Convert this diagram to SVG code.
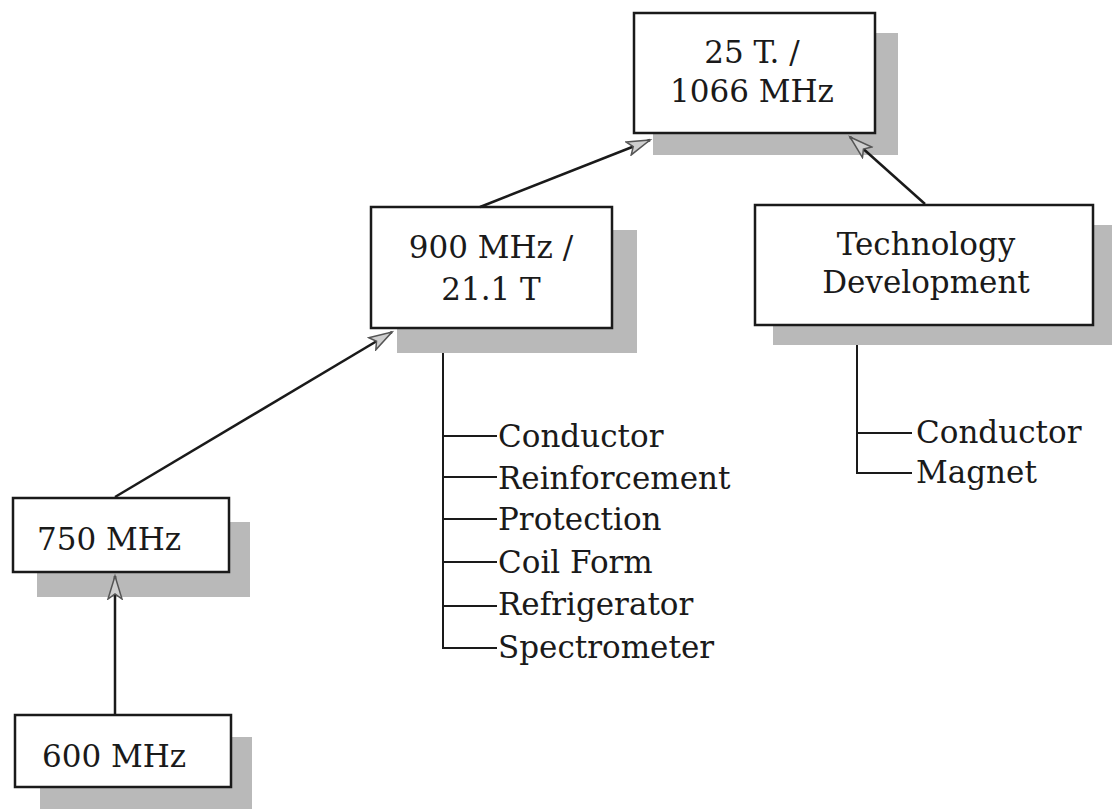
<svg xmlns="http://www.w3.org/2000/svg" width="1112" height="809" viewBox="0 0 1112 809">
<style>
.box{fill:#fff;stroke:#1a1a1a;stroke-width:2.5}
.sh{fill:#b9b9b9}
.t{font-family:"DejaVu Serif","Liberation Serif",serif;font-size:31px;fill:#1a1a1a}
.c{text-anchor:middle}
.ln{stroke:#1a1a1a;stroke-width:2.5;fill:none}
.br{stroke:#1a1a1a;stroke-width:2;fill:none}
</style>
<defs>
<marker id="ah" markerUnits="userSpaceOnUse" markerWidth="28" markerHeight="18" refX="24" refY="8" orient="auto">
<path d="M1,1 L24,8 L1,15 L6,8 z" fill="#cfcfcf" stroke="#555" stroke-width="1.5"/>
</marker>
</defs>
<rect width="1112" height="809" fill="#fff"/>
<g id="n25T">
<rect class="sh" x="653" y="33" width="245" height="122"/>
<rect class="box" x="634" y="13" width="241" height="120"/>
<text class="t c" x="752" y="63">25 T. /</text>
<text class="t c" x="752" y="102">1066 MHz</text>
</g>
<g id="n900">
<rect class="sh" x="397" y="230" width="240" height="123"/>
<rect class="box" x="371" y="207" width="241" height="121"/>
<text class="t c" x="491" y="258">900 MHz /</text>
<text class="t c" x="491" y="300">21.1 T</text>
</g>
<g id="ntech">
<rect class="sh" x="773" y="225" width="345" height="120"/>
<rect class="box" x="755" y="205" width="338" height="120"/>
<text class="t c" x="926" y="255">Technology</text>
<text class="t c" x="926" y="293">Development</text>
</g>
<g id="n750">
<rect class="sh" x="37" y="522" width="213" height="75"/>
<rect class="box" x="13" y="498" width="216" height="74"/>
<text class="t" x="37" y="550">750 MHz</text>
</g>
<g id="n600">
<rect class="sh" x="40" y="737" width="212" height="80"/>
<rect class="box" x="15" y="715" width="216" height="72"/>
<text class="t" x="42" y="767">600 MHz</text>
</g>
<g id="list900">
<text class="t" x="498" y="447">Conductor</text>
<text class="t" x="498" y="489">Reinforcement</text>
<text class="t" x="498" y="530">Protection</text>
<text class="t" x="498" y="573">Coil Form</text>
<text class="t" x="498" y="615">Refrigerator</text>
<text class="t" x="498" y="658">Spectrometer</text>
</g>
<g id="listTech">
<text class="t" x="916" y="443">Conductor</text>
<text class="t" x="916" y="483">Magnet</text>
</g>
<g id="connectors">
<line class="ln" x1="115" y1="715" x2="115" y2="576" marker-end="url(#ah)"/>
<line class="ln" x1="115" y1="497" x2="392" y2="332" marker-end="url(#ah)"/>
<line class="ln" x1="480" y1="207" x2="650" y2="140" marker-end="url(#ah)"/>
<line class="ln" x1="925" y1="204" x2="850" y2="137" marker-end="url(#ah)"/>
<path class="br" d="M443,353 V648 H497 M443,436 H497 M443,477 H497 M443,519 H497 M443,562 H497 M443,606 H497"/>
<path class="br" d="M857,345 V473 H912 M857,433 H912"/>
</g>
</svg>
